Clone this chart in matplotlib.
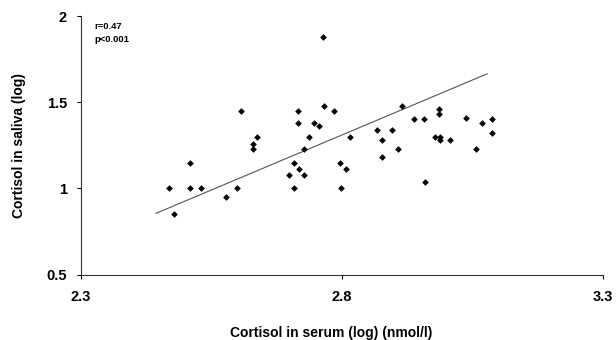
import matplotlib
matplotlib.use("Agg")
import matplotlib.pyplot as plt

serum = [2.469, 2.509, 2.530, 2.479, 2.509, 2.579, 2.599, 2.607, 2.629, 2.629,
         2.638, 2.708, 2.718, 2.699, 2.728, 2.708, 2.717, 2.717, 2.746, 2.756,
         2.737, 2.727, 2.766, 2.786, 2.797, 2.808, 2.798, 2.815, 2.764, 2.916,
         2.867, 2.897, 2.878, 2.907, 2.878, 2.938, 2.958, 2.987, 2.987, 2.978,
         2.988, 2.988, 3.008, 2.959, 3.038, 3.068, 3.088, 3.088, 3.058]
saliva = [1.00, 1.00, 1.00, 0.85, 1.15, 0.95, 1.00, 1.45, 1.26, 1.23,
          1.30, 1.15, 1.11, 1.08, 1.08, 1.00, 1.45, 1.38, 1.38, 1.36,
          1.30, 1.23, 1.48, 1.45, 1.15, 1.11, 1.00, 1.30, 1.88, 1.48,
          1.34, 1.34, 1.28, 1.23, 1.18, 1.40, 1.40, 1.46, 1.43, 1.30,
          1.30, 1.28, 1.28, 1.04, 1.41, 1.38, 1.40, 1.32, 1.23]
fit_x = [2.444, 3.079]
fit_y = [0.856, 1.665]
xticks = [2.3, 2.8, 3.3]
yticks = [0.5, 1, 1.5, 2]
xlabels = ["2.3", "2.8", "3.3"]
ylabels = ["0.5", "1", "1.5", "2"]

plt.rcParams['font.family'] = ['Liberation Sans', 'DejaVu Sans']

fig = plt.figure(figsize=(6.16, 3.40), dpi=100)
ax = fig.add_axes([81/616, 65.3/340, (602.5-81)/616, (274.7-16)/340])
ax.plot(fit_x, fit_y, color='#555555', lw=0.8, zorder=2)
ax.plot(serum, saliva, linestyle='none', marker='D', ms=3.4, color='black',
        markeredgewidth=0, zorder=3)
ax.set_xlim(2.3, 3.3)
ax.set_ylim(0.5, 2)
ax.set_xticks(xticks)
ax.set_xticklabels(xlabels, fontweight='bold', fontsize=10.5)
ax.set_yticks(yticks)
ax.set_yticklabels(ylabels, fontweight='bold', fontsize=10.5)
ax.tick_params(axis='x', direction='out', length=3, width=0.8, pad=8)
ax.tick_params(axis='y', direction='out', length=3, width=0.8, pad=7)
for s in ['top', 'right']:
    ax.spines[s].set_visible(False)
for s in ['left', 'bottom']:
    ax.spines[s].set_linewidth(0.8)
    ax.spines[s].set_color('#333333')
ax.set_xlabel("Cortisol in serum (log) (nmol/l)", fontweight='bold', fontsize=10, labelpad=14)
ax.xaxis.set_label_coords(0.479, -0.2)
ax.set_ylabel("Cortisol in saliva (log)", fontweight='bold', fontsize=10, labelpad=15)
ax.text(0.025, 0.975, "r=0.47\np<0.001", transform=ax.transAxes, fontsize=6.8,
        fontweight='bold', va='top', ha='left', linespacing=1.5)
fig.savefig("out.png", dpi=100)
